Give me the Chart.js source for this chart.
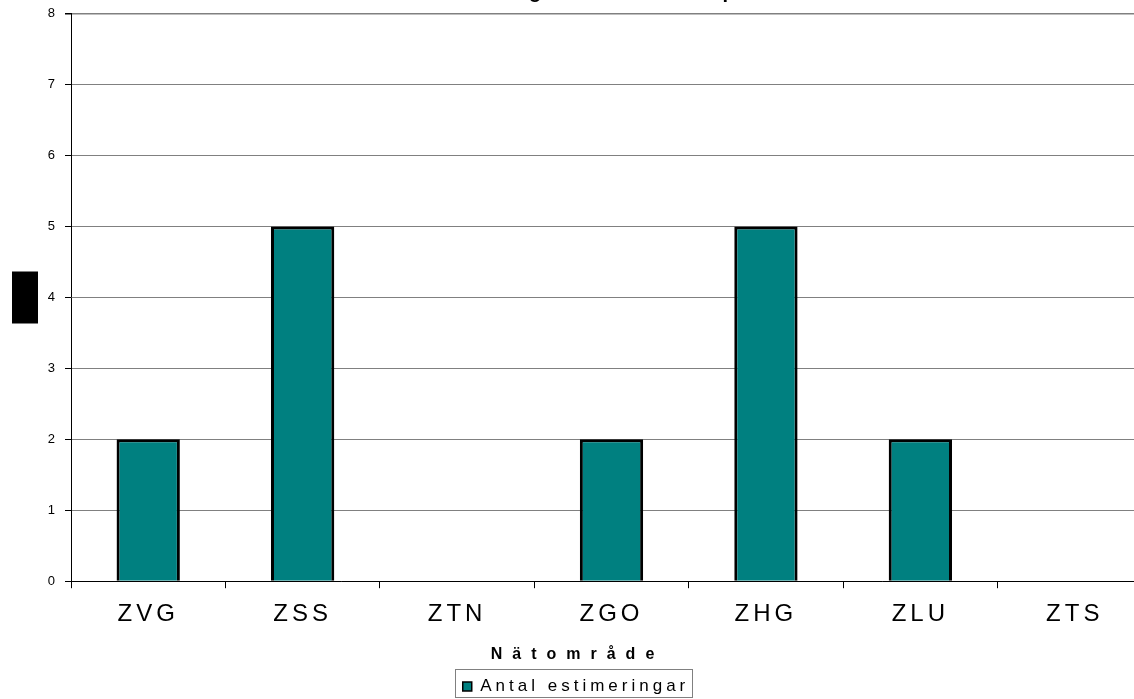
<!DOCTYPE html>
<html>
<head>
<meta charset="utf-8">
<script src="https://cdn.jsdelivr.net/npm/chart.js@4.4.1/dist/chart.umd.min.js"></script>
<style>
  html, body { margin: 0; padding: 0; background: #fff; overflow: hidden; }
  #wrap { width: 1153px; height: 699px; position: relative; }
</style>
</head>
<body>
<div id="wrap"><canvas id="myChart"></canvas></div>
<script>
// chart data
const areas = ["ZVG", "ZSS", "ZTN", "ZGO", "ZHG", "ZLU", "ZTS"];
const estimates = [2, 5, 0, 2, 5, 2, 0];
const yTicks = [0, 1, 2, 3, 4, 5, 6, 7, 8];
const seriesName = "Antal estimeringar";
const chartTitle = "Antal estimeringar fördelat per nätområde";
const xTitle = "Nätområde";
const yTitle = "Antal";

const FONT = "'Liberation Sans', Arial, sans-serif";

// wide letter spacing like the original export
const spacing = {
    id: "spacing",
    beforeUpdate(chart) { chart.ctx.letterSpacing = "4px"; },
    beforeDraw(chart) { chart.ctx.letterSpacing = "4px"; }
};

// title sits above the canvas edge, only descenders show
const topTitle = {
    id: "topTitle",
    afterDraw(chart) {
        const ctx = chart.ctx;
        ctx.save();
        ctx.font = "bold 20px " + FONT;
        ctx.letterSpacing = "6px";
        ctx.fillStyle = "#000";
        ctx.textAlign = "center";
        ctx.textBaseline = "alphabetic";
        ctx.fillText(chartTitle, 617, -2);
        ctx.restore();
    }
};

// x axis title drawn by hand for its very wide spacing
const xTitleText = {
    id: "xTitleText",
    afterDraw(chart) {
        const ctx = chart.ctx;
        ctx.save();
        ctx.font = "bold 16px " + FONT;
        ctx.letterSpacing = "10px";
        ctx.fillStyle = "#000";
        ctx.textAlign = "center";
        ctx.textBaseline = "middle";
        ctx.fillText(xTitle, chart.width / 2 + 1, chart.scales.x.bottom - 17);
        ctx.restore();
    }
};

// black block where the y axis title is
const yTitleBox = {
    id: "yTitleBox",
    afterDraw(chart) {
        const ctx = chart.ctx;
        const area = chart.chartArea;
        const mid = (area.top + area.bottom) / 2;
        ctx.save();
        ctx.fillStyle = "#000";
        ctx.fillRect(12, mid - 26, 26, 52);
        ctx.translate(25, mid);
        ctx.rotate(-Math.PI / 2);
        ctx.letterSpacing = "0px";
        ctx.font = "bold 11px " + FONT;
        ctx.textAlign = "center";
        ctx.textBaseline = "middle";
        ctx.fillText(yTitle, 0, 0);
        ctx.restore();
    }
};

// frame round the legend
const legendFrame = {
    id: "legendFrame",
    afterDraw(chart) {
        const box = chart.legend.legendHitBoxes[0];
        if (!box) return;
        const ctx = chart.ctx;
        ctx.save();
        ctx.strokeStyle = "#808080";
        ctx.lineWidth = 1;
        ctx.strokeRect(Math.round(box.left) - 7.5, Math.round(box.top) - 8.5, Math.round(box.width) + 10, Math.round(box.height) + 11);
        ctx.restore();
    }
};

let ctx = document.getElementById("myChart").getContext("2d");
let myChart = new Chart(ctx, {
    type: "bar",
    data: {
        labels: areas,
        datasets: [{
            label: seriesName,
            data: estimates,
            backgroundColor: "#008080",
            borderColor: "#000000",
            borderWidth: 3,
            borderSkipped: "bottom",
            categoryPercentage: 1.0,
            barPercentage: 0.41
        }]
    },
    options: {
        responsive: true,
        maintainAspectRatio: false,
        animation: false,
        devicePixelRatio: 1,
        layout: { padding: { top: 7, right: 1, left: 0, bottom: -6 } },
        plugins: {
            title: { display: false },
            tooltip: { enabled: false },
            legend: {
                position: "bottom",
                labels: {
                    color: "#000",
                    font: { family: FONT, size: 17 },
                    boxWidth: 9,
                    boxHeight: 9,
                    padding: 6,
                    generateLabels(chart) {
                        return [{
                            text: seriesName,
                            fillStyle: "#008080",
                            strokeStyle: "#000",
                            lineWidth: 1.5,
                            datasetIndex: 0
                        }];
                    }
                }
            }
        },
        scales: {
            x: {
                offset: true,
                border: { color: "#000", width: 1 },
                grid: {
                    offset: true,
                    drawOnChartArea: false,
                    drawTicks: true,
                    tickLength: 7,
                    tickColor: "#000"
                },
                ticks: {
                    color: "#000",
                    font: { family: FONT, size: 24 },
                    padding: 12
                },
                afterFit(scale) { scale.height += 31; }
            },
            y: {
                min: 0,
                max: 8,
                border: { color: "#000", width: 1 },
                grid: {
                    color: "#808080",
                    tickColor: "#000",
                    tickLength: 6,
                    lineWidth: (c) => c.tick && c.tick.value === 8 ? 1.5 : 1
                },
                afterBuildTicks(axis) {
                    axis.ticks = yTicks.map(v => ({ value: v }));
                },
                afterFit(scale) { scale.width = 71; },
                ticks: {
                    color: "#000",
                    font: { family: FONT, size: 13 },
                    padding: 6
                }
            }
        }
    },
    plugins: [spacing, topTitle, xTitleText, yTitleBox, legendFrame]
});
</script>
</body>
</html>
